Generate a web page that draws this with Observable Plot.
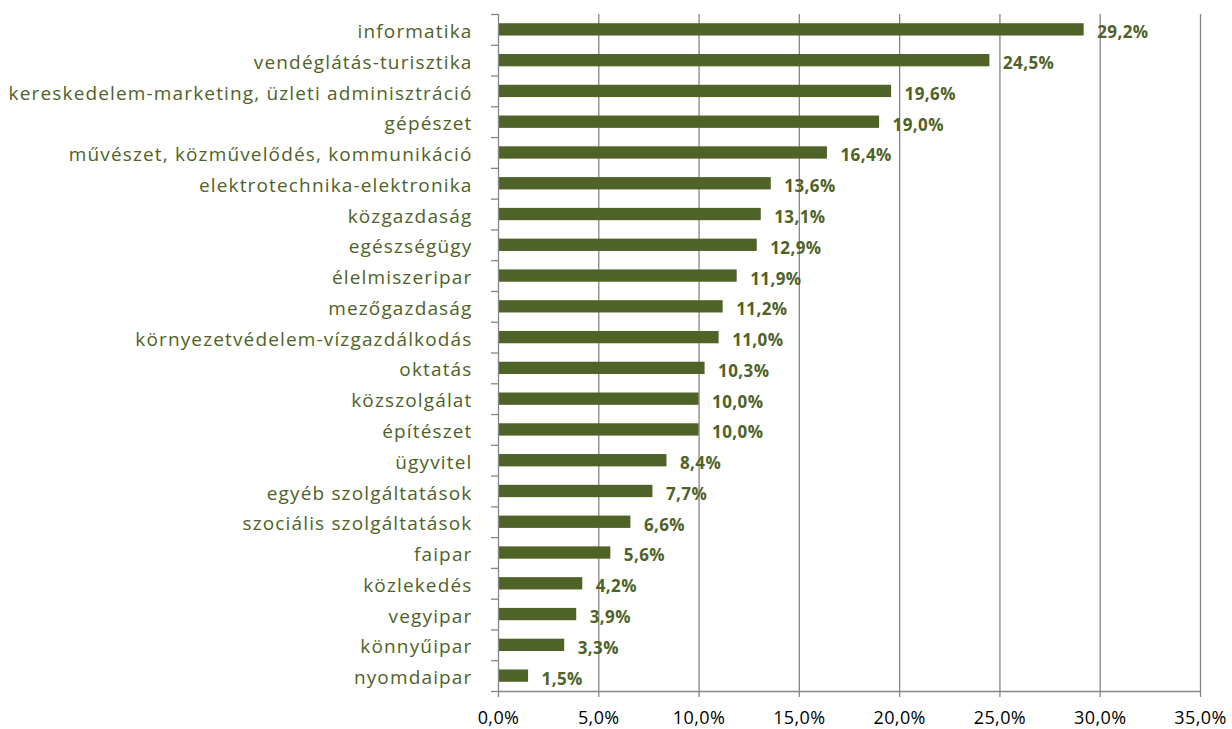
<!DOCTYPE html>
<html>
<head>
<meta charset="utf-8">
<script src="https://cdn.jsdelivr.net/npm/d3@7"></script>
<script src="https://cdn.jsdelivr.net/npm/@observablehq/plot@0.6"></script>
<style>
  html, body { margin: 0; padding: 0; background: #fff; }
  #chart svg { display: block; }
  #chart g[aria-label="y-axis tick label"] text { letter-spacing: 1.15px; }
  #chart g[aria-label="x-axis tick label"] text { letter-spacing: 0.4px; }
  #chart g[aria-label="text"] text { letter-spacing: 0.4px; }
</style>
</head>
<body>
<div id="chart"></div>
<script>
const categories = [
  "informatika",
  "vendéglátás-turisztika",
  "kereskedelem-marketing, üzleti adminisztráció",
  "gépészet",
  "művészet, közművelődés, kommunikáció",
  "elektrotechnika-elektronika",
  "közgazdaság",
  "egészségügy",
  "élelmiszeripar",
  "mezőgazdaság",
  "környezetvédelem-vízgazdálkodás",
  "oktatás",
  "közszolgálat",
  "építészet",
  "ügyvitel",
  "egyéb szolgáltatások",
  "szociális szolgáltatások",
  "faipar",
  "közlekedés",
  "vegyipar",
  "könnyűipar",
  "nyomdaipar"
];
const values = [29.2, 24.5, 19.6, 19.0, 16.4, 13.6, 13.1, 12.9, 11.9, 11.2, 11.0, 10.3, 10.0, 10.0, 8.4, 7.7, 6.6, 5.6, 4.2, 3.9, 3.3, 1.5];
const xTicks = [0, 5, 10, 15, 20, 25, 30, 35];

const data = categories.map((c, i) => ({category: c, value: values[i]}));
const fmt = v => v.toFixed(1).replace(".", ",") + "%";

const W = 1232, H = 729;
const mTop = 14, mBottom = 38, mLeft = 498, mRight = 32;
const step = (H - mTop - mBottom) / categories.length;
const green = "#4f6228";
const gray = "#868686";

const chart = Plot.plot({
  width: W,
  height: H,
  marginTop: mTop,
  marginBottom: mBottom,
  marginLeft: mLeft,
  marginRight: mRight,
  style: {fontFamily: "'Open Sans', sans-serif", background: "#fff"},
  x: {domain: [0, 35], ticks: xTicks},
  y: {domain: categories, paddingInner: 0.6, paddingOuter: 0.3, round: false},
  marks: [
    Plot.gridX(xTicks.slice(1), {stroke: gray, strokeOpacity: 1, strokeWidth: 1.3}),
    Plot.barX(data, {x: "value", y: "category", fill: green}),
    Plot.ruleX([0], {stroke: gray, strokeWidth: 1.3}),
    Plot.frame({anchor: "bottom", stroke: gray, strokeWidth: 1.3}),
    Plot.axisX({ticks: xTicks, tickSize: 6, tickPadding: 14, tickFormat: fmt, fontSize: 18, color: "#000", stroke: gray, strokeWidth: 1.3, label: null}),
    Plot.axisY({tickSize: 0, tickPadding: 26, fontSize: 19, fill: green, label: null, dy: 2}),
    Plot.axisY({ticks: categories, tickSize: 7, tickFormat: () => "", dy: step / 2, stroke: gray, strokeWidth: 1.3, label: null}),
    Plot.axisY({ticks: [categories[0]], tickSize: 7, tickFormat: () => "", dy: -step / 2, stroke: gray, strokeWidth: 1.3, label: null}),
    Plot.text(data, {x: "value", y: "category", text: d => fmt(d.value), textAnchor: "start", dx: 13, dy: 3, fill: green, fontWeight: "bold", fontSize: 17})
  ]
});
document.getElementById("chart").appendChild(chart);
</script>
</body>
</html>
